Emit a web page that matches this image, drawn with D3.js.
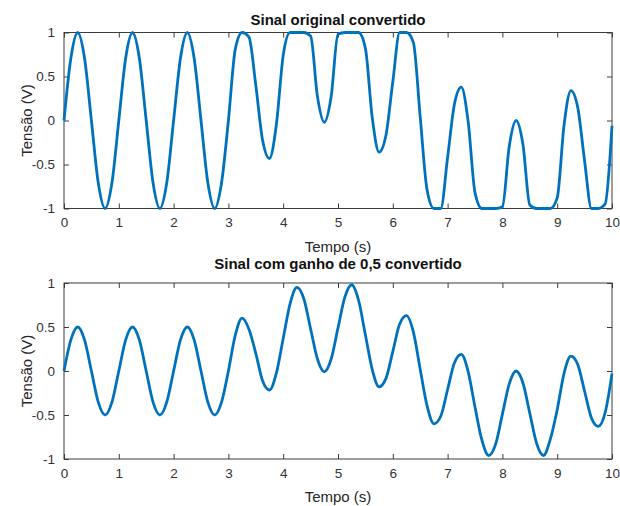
<!DOCTYPE html>
<html>
<head>
<meta charset="utf-8">
<script src="https://cdn.jsdelivr.net/npm/d3@7"></script>
<style>
  body { margin: 0; background: #fff; }
  svg { display: block; font-family: "Liberation Sans", Arial, sans-serif; }
</style>
</head>
<body>
<svg id="chart" width="620" height="506"></svg>
<script>
// sample times (s)
const tempo = [
  0, 0.125, 0.25, 0.375, 0.5, 0.625, 0.75, 0.875,
  1, 1.125, 1.25, 1.375, 1.5, 1.625, 1.75, 1.875,
  2, 2.125, 2.25, 2.375, 2.5, 2.625, 2.75, 2.875,
  3, 3.125, 3.25, 3.375, 3.5, 3.625, 3.75, 3.875,
  4, 4.125, 4.25, 4.375, 4.5, 4.625, 4.75, 4.875,
  5, 5.125, 5.25, 5.375, 5.5, 5.625, 5.75, 5.875,
  6, 6.125, 6.25, 6.375, 6.5, 6.625, 6.75, 6.875,
  7, 7.125, 7.25, 7.375, 7.5, 7.625, 7.75, 7.875,
  8, 8.125, 8.25, 8.375, 8.5, 8.625, 8.75, 8.875,
  9, 9.125, 9.25, 9.375, 9.5, 9.625, 9.75, 9.875,
  10
];

// top plot: original signal (clipped to +-1 V)
const sinalOriginal = [
  0, 0.708, 1, 0.708, 0, -0.708, -1, -0.708,
  0, 0.708, 1, 0.708, 0, -0.708, -1, -0.708,
  0, 0.708, 1, 0.708, 0, -0.708, -1, -0.708,
  0, 0.808, 1, 0.948, 0.40, -0.228, -0.432, -0.048,
  0.74, 1, 1, 1, 0.96, 0.272, -0.02, 0.272,
  0.98, 1, 1, 1, 0.82, 0.032, -0.36, -0.168,
  0.44, 1, 1, 0.888, 0.04, -0.788, -1, -1,
  -0.42, 0.188, 0.38, -0.012, -0.82, -1, -1, -1,
  -0.98, -0.292, 0, -0.272, -0.96, -1, -1, -1,
  -0.88, -0.052, 0.34, 0.148, -0.46, -1, -1, -0.948,
  -0.06
];

// bottom plot: signal with gain 0.5
const sinalGanho = [
  0, 0.354, 0.5, 0.354, 0, -0.354, -0.5, -0.354,
  0, 0.354, 0.5, 0.354, 0, -0.354, -0.5, -0.354,
  0, 0.354, 0.5, 0.354, 0, -0.354, -0.5, -0.354,
  0, 0.404, 0.60, 0.474, 0.20, -0.114, -0.216, -0.024,
  0.37, 0.764, 0.95, 0.824, 0.48, 0.136, -0.01, 0.136,
  0.49, 0.839, 0.98, 0.804, 0.41, 0.016, -0.18, -0.084,
  0.22, 0.534, 0.63, 0.444, 0.02, -0.394, -0.60, -0.514,
  -0.21, 0.094, 0.19, -0.006, -0.41, -0.784, -0.96, -0.834,
  -0.49, -0.146, 0, -0.136, -0.48, -0.824, -0.96, -0.774,
  -0.44, -0.026, 0.17, 0.074, -0.23, -0.534, -0.63, -0.474,
  -0.03
];

const xTicks = [0, 1, 2, 3, 4, 5, 6, 7, 8, 9, 10];
const yTicks = [-1, -0.5, 0, 0.5, 1];
const titulos = ["Sinal original convertido", "Sinal com ganho de 0,5 convertido"];

const svg = d3.select("#chart");
const axisColor = "#3c3c3c";
const lineColor = "#0072BD";

const panels = [
  { top: 32.5, bottom: 208.5, values: sinalOriginal, title: titulos[0], titleY: 25 },
  { top: 283, bottom: 459, values: sinalGanho, title: titulos[1], titleY: 269 }
];
const left = 64, right = 612;

const x = d3.scaleLinear().domain([0, 10]).range([left, right]);

panels.forEach(p => {
  const y = d3.scaleLinear().domain([-1, 1]).range([p.bottom, p.top]);
  const g = svg.append("g");
  const h = p.bottom - p.top;
  const w = right - left;

  // ticks on all sides, pointing inward
  g.append("g")
    .attr("transform", `translate(0,${p.bottom})`)
    .call(d3.axisBottom(x).tickValues(xTicks).tickSize(-5).tickPadding(9).tickFormat(d => String(d)));
  g.append("g")
    .attr("transform", `translate(0,${p.top})`)
    .call(d3.axisTop(x).tickValues(xTicks).tickSize(-5).tickFormat(""));
  g.append("g")
    .attr("transform", `translate(${left},0)`)
    .call(d3.axisLeft(y).tickValues(yTicks).tickSize(-5).tickPadding(9).tickFormat(d => String(d)));
  g.append("g")
    .attr("transform", `translate(${right},0)`)
    .call(d3.axisRight(y).tickValues(yTicks).tickSize(-5).tickFormat(""));

  g.selectAll(".domain").remove();
  g.selectAll(".tick line").attr("stroke", axisColor).attr("stroke-width", 1);
  g.selectAll(".tick text")
    .attr("fill", "#333")
    .style("font-family", "'Liberation Sans', Arial, sans-serif")
    .style("font-size", "13.5px");

  g.append("rect")
    .attr("x", left).attr("y", p.top)
    .attr("width", w).attr("height", h)
    .attr("fill", "none")
    .attr("stroke", axisColor)
    .attr("stroke-width", 1);

  const line = d3.line()
    .x((d, i) => x(tempo[i]))
    .y(d => y(d))
    .curve(d3.curveMonotoneX);

  g.append("path")
    .datum(p.values)
    .attr("d", line)
    .attr("fill", "none")
    .attr("stroke", lineColor)
    .attr("stroke-width", 2.8)
    .attr("stroke-linejoin", "round");

  // title
  g.append("text")
    .attr("x", (left + right) / 2)
    .attr("y", p.titleY)
    .attr("text-anchor", "middle")
    .attr("font-weight", "bold")
    .attr("font-size", 15)
    .attr("fill", "#111")
    .text(p.title);

  // x label
  g.append("text")
    .attr("x", (left + right) / 2)
    .attr("y", p.bottom + 43)
    .attr("text-anchor", "middle")
    .attr("font-size", 15)
    .attr("fill", "#262626")
    .text("Tempo (s)");

  // y label
  g.append("text")
    .attr("transform", `translate(32,${(p.top + p.bottom) / 2}) rotate(-90)`)
    .attr("text-anchor", "middle")
    .attr("font-size", 15)
    .attr("fill", "#262626")
    .text("Tensão (V)");
});
</script>
</body>
</html>
